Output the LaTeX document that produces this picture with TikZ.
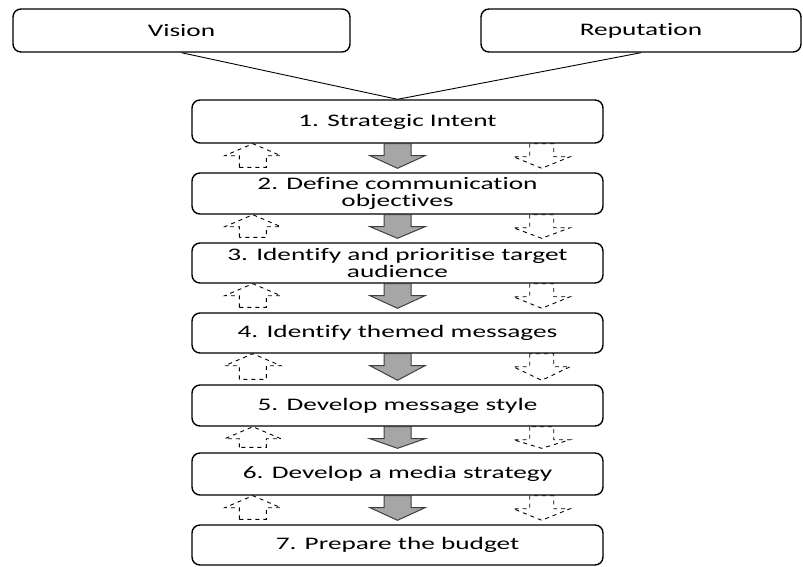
\documentclass[tikz,border=0pt]{standalone}
\usepackage{fontspec}
\setmainfont{Carlito}[FakeStretch=1.55, Ligatures={NoCommon}]
\usetikzlibrary{calc}
\definecolor{arrowgray}{HTML}{A6A6A6}
\definecolor{arrowedge}{HTML}{3F3F3F}
\tikzset{
  stepbox/.style={draw=black, line width=1.4pt, rounded corners=8pt, minimum width=411pt, inner sep=0pt, align=center, font=\fontsize{17.6}{17.5}\selectfont},
  link/.style={draw=black, line width=0.9pt},
  grayarr/.style={draw=arrowedge, fill=arrowgray, line width=1pt},
  dasharr/.style={draw=black, line width=0.9pt, dash pattern=on 4pt off 4pt},
}
\newcommand{\gapArrows}[2]{%
  \path[grayarr] let \p1=(#1.south), \p2=(#2.north) in
    (\x1-13.5pt,\y1) -- (\x1+13.5pt,\y1) -- (\x1+13.5pt,\y1-12pt) -- (\x1+27.5pt,\y1-12pt)
    -- (\x1,\y2+4pt) -- (\x1-27.5pt,\y1-12pt) -- (\x1-13.5pt,\y1-12pt) -- cycle;
  \path[dasharr] let \p1=(#1.south west), \p2=(#2.north) in
    (\x1+61.5pt-13.5pt,\y2+5pt) -- (\x1+61.5pt-13.5pt,\y1-12pt) -- (\x1+61.5pt-28pt,\y1-12pt)
    -- (\x1+61.5pt,\y1) -- (\x1+61.5pt+28pt,\y1-12pt) -- (\x1+61.5pt+13.5pt,\y1-12pt)
    -- (\x1+61.5pt+13.5pt,\y2+5pt) -- cycle;
  \path[dasharr] let \p1=(#1.south east), \p2=(#2.north) in
    (\x1-62pt-12pt,\y1) -- (\x1-62pt-12pt,\y1-13pt) -- (\x1-62pt-28.5pt,\y1-13pt)
    -- (\x1-62pt,\y2+4pt) -- (\x1-62pt+28.5pt,\y1-13pt) -- (\x1-62pt+12pt,\y1-13pt)
    -- (\x1-62pt+12pt,\y1) -- cycle;
}
\begin{document}
\begin{tikzpicture}[x=1pt,y=1pt]
\useasboundingbox (0,0) rectangle (803,-566);
\node[stepbox, minimum width=337pt, minimum height=43pt] (vision) at (181.5,-30.5) {Vision};
\node[stepbox, minimum width=320pt, minimum height=43pt] (reput) at (641,-30.5) {Reputation};
\node[stepbox, minimum height=43pt] (b1) at (397.5,-121.5) {1. Strategic Intent};
\node[stepbox, minimum height=41pt] (b2) at (397.5,-193.5) {2. Define communication\\objectives};
\node[stepbox, minimum height=40pt] (b3) at (397.5,-263) {3. Identify and prioritise target\\audience};
\node[stepbox, minimum height=40pt] (b4) at (397.5,-333) {4. Identify themed messages};
\node[stepbox, minimum height=41pt] (b5) at (397.5,-405.5) {5. Develop message style};
\node[stepbox, minimum height=42pt] (b6) at (397.5,-474) {6. Develop a media strategy};
\node[stepbox, minimum height=40pt] (b7) at (397.5,-545) {7. Prepare the budget};
\draw[link] (vision.south) -- (b1.north);
\draw[link] (reput.south) -- (b1.north);
\gapArrows{b1}{b2}
\gapArrows{b2}{b3}
\gapArrows{b3}{b4}
\gapArrows{b4}{b5}
\gapArrows{b5}{b6}
\gapArrows{b6}{b7}
\end{tikzpicture}
\end{document}
